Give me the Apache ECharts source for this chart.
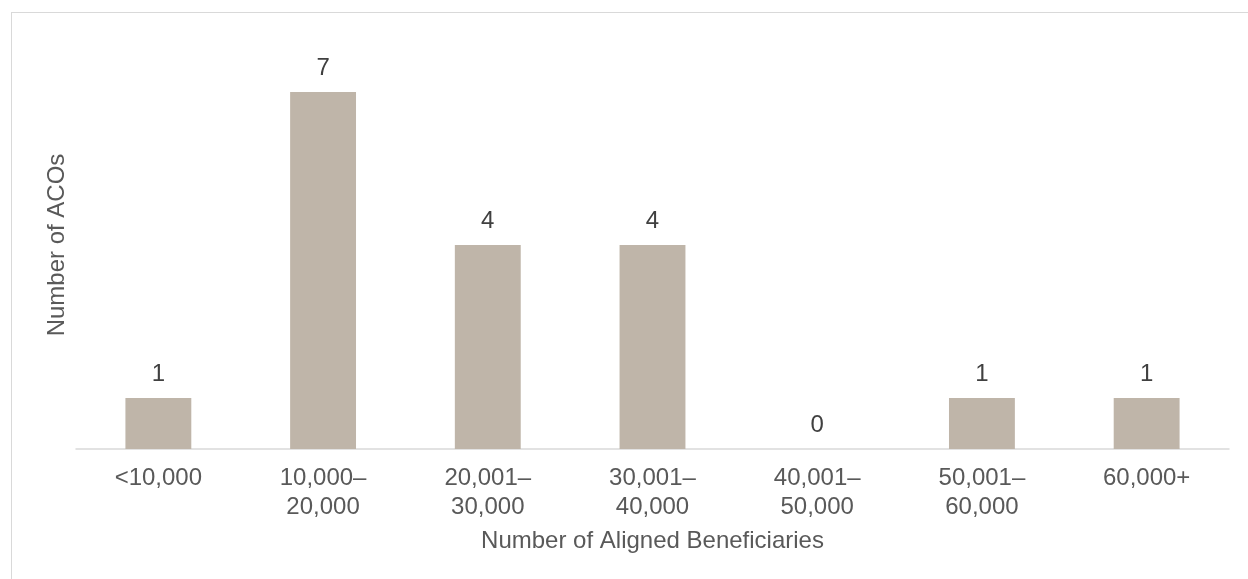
<!DOCTYPE html>
<html>
<head>
<meta charset="utf-8">
<script src="https://cdn.jsdelivr.net/npm/echarts@6/dist/echarts.min.js"></script>
<style>
  html, body { margin: 0; padding: 0; background: #fff; overflow: hidden; }
  #frame { position: absolute; left: 11px; top: 12px; width: 1300px; height: 700px;
           border-top: 1px solid #d9d9d9; border-left: 1px solid #d9d9d9; }
  #main { position: absolute; left: 0; top: 0; width: 1248px; height: 579px; }
</style>
</head>
<body>
<div id="frame"></div>
<div id="main"></div>
<script>
// bins of aligned beneficiaries
const categories = ['<10,000', '10,000–\n20,000', '20,001–\n30,000', '30,001–\n40,000', '40,001–\n50,000', '50,001–\n60,000', '60,000+']
// number of ACOs per bin
const acoCounts = [1, 7, 4, 4, 0, 1, 1]

const fontFam = '"Liberation Sans", Arial, sans-serif'

let myChart = echarts.init(document.getElementById('main'))
let option = {
    animation: false,
    grid: { left: 76, right: 19, top: 41, bottom: 130 },
    xAxis: {
        type: 'category',
        data: categories,
        name: 'Number of Aligned Beneficiaries',
        nameLocation: 'middle',
        nameGap: 80,
        nameTextStyle: { color: '#595959', fontSize: 24, fontFamily: fontFam },
        axisLine: { lineStyle: { color: '#d9d9d9', width: 1.5 } },
        axisTick: { show: false },
        axisLabel: { color: '#595959', fontSize: 24, fontFamily: fontFam, lineHeight: 29, margin: 15 }
    },
    yAxis: {
        type: 'value',
        min: 0,
        max: 8,
        name: 'Number of ACOs',
        nameLocation: 'middle',
        nameGap: 7,
        nameTextStyle: { color: '#595959', fontSize: 24, fontFamily: fontFam },
        axisLine: { show: false },
        axisTick: { show: false },
        axisLabel: { show: false },
        splitLine: { show: false }
    },
    series: [{
        type: 'bar',
        data: acoCounts,
        barWidth: '40%',
        itemStyle: { color: '#bfb5a9' },
        label: {
            show: true,
            position: 'top',
            distance: 12,
            color: '#404040',
            fontSize: 24,
            fontFamily: fontFam
        }
    }]
}
myChart.setOption(option)
</script>
</body>
</html>
